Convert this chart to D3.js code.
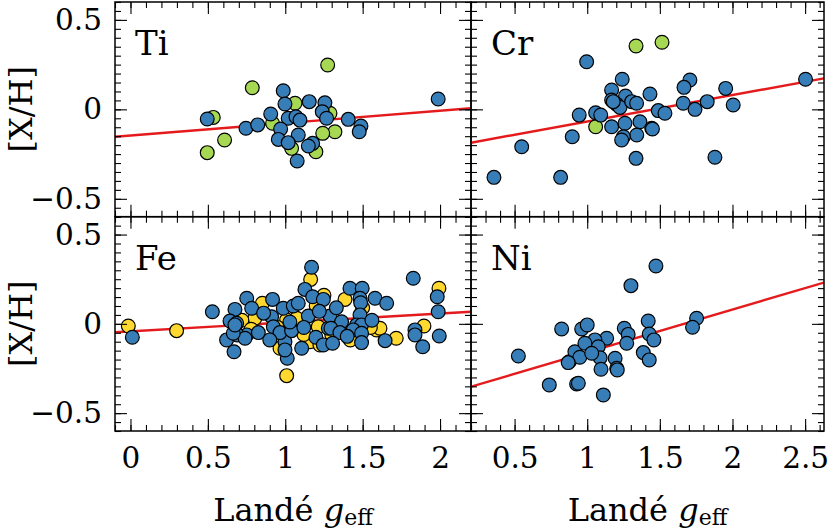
<!DOCTYPE html>
<html>
<head>
<meta charset="utf-8">
<script src="https://cdn.jsdelivr.net/npm/d3@7"></script>
<style>
  body { margin: 0; background: #fff; }
  svg { font-family: "DejaVu Serif", serif; }
</style>
</head>
<body>
<svg id="chart"></svg>
<script>
// values: [Lande g_eff, [X/H]]
const tiBlue = [[0.496,-0.054],[0.746,-0.106],[0.822,-0.087],[0.906,-0.026],[0.987,0.104],[0.998,0.030],
  [1.155,0.043],[1.256,0.037],[1.239,-0.013],[1.267,-0.050],[1.019,-0.050],[1.069,-0.041],[1.095,-0.060],
  [1.407,-0.056],[1.489,-0.093],[1.478,-0.125],[0.970,-0.110],[1.084,-0.143],[0.955,-0.168],[1.019,-0.186],
  [1.177,-0.190],[1.149,-0.205],[1.077,-0.289],[1.988,0.058]];
const tiGreen = [[0.535,-0.045],[0.787,0.121],[0.608,-0.171],[0.496,-0.242],[1.274,0.248],[1.063,0.034],
  [1.289,-0.022],[1.321,-0.125],[1.242,-0.134],[0.918,-0.078],[1.041,-0.218],[1.198,-0.237]];

const crBlue = [[0.358,-0.380],[0.549,-0.209],[0.817,-0.380],[0.897,-0.153],[0.996,0.266],[0.945,-0.032],
  [1.058,-0.019],[1.093,-0.032],[1.241,0.168],[1.168,0.108],[1.168,0.052],[1.264,0.075],[1.203,0.028],
  [1.226,0.011],[1.306,0.043],[1.432,0.086],[1.489,-0.007],[1.535,-0.022],[1.168,-0.097],[1.260,-0.078],
  [1.363,-0.069],[1.444,-0.106],[1.341,-0.143],[1.249,-0.153],[1.237,-0.171],[1.336,-0.274],[1.707,0.164],
  [1.666,0.123],[1.953,0.117],[1.661,0.034],[1.742,0.000],[1.826,0.043],[2.005,0.024],[1.879,-0.268],
  [2.503,0.168],[1.179,0.043],[1.340,0.034],[1.449,-0.110]];
const crGreen = [[1.058,-0.097],[1.336,0.354],[1.515,0.375]];

const feBlue = [[0.012,-0.075],[0.529,0.068],[0.751,0.143],[0.675,0.081],[0.783,0.087],[0.918,0.137],
  [0.987,0.087],[0.643,0.016],[0.686,0.003],[0.621,-0.090],[0.669,-0.156],[0.751,-0.062],[0.826,-0.049],
  [0.912,0.040],[0.923,-0.016],[0.998,-0.100],[1.013,-0.193],[1.170,0.317],[1.052,0.100],[1.084,0.115],
  [1.127,0.193],[1.177,0.152],[1.246,0.137],[1.149,0.044],[0.690,-0.062],[0.966,-0.049],[1.041,-0.038],
  [0.998,-0.146],[1.106,-0.137],[1.198,-0.075],[1.246,-0.118],[1.278,-0.025],[1.827,0.255],[1.418,0.199],
  [1.497,0.199],[1.483,0.143],[1.580,0.143],[1.655,0.115],[1.487,0.118],[1.289,0.044],[1.483,0.050],
  [1.461,-0.006],[1.493,-0.006],[1.364,0.012],[1.295,-0.025],[1.439,-0.034],[1.493,-0.053],[1.353,-0.049],
  [1.306,-0.109],[1.493,-0.105],[1.645,-0.094],[1.838,-0.034],[1.838,-0.062],[1.888,-0.128],[1.995,-0.068],
  [1.982,0.152],[1.988,0.068],[0.740,-0.081],[0.664,-0.053],[0.675,-0.006],[0.860,0.060],[1.030,0.010],
  [1.120,-0.020],[1.220,0.070],[0.900,-0.090],[1.330,0.090],[1.400,-0.070],[1.560,0.020]];
const feYellow = [[-0.014,-0.012],[0.298,-0.038],[0.852,0.115],[0.804,0.031],[1.009,-0.290],[1.164,0.249],
  [1.213,-0.016],[1.160,-0.100],[0.966,-0.137],[1.386,0.137],[1.590,-0.034],[1.612,-0.025],[1.717,-0.081],
  [1.224,-0.118],[1.896,-0.012],[1.993,0.199],[1.009,0.022],[1.074,0.031],[0.72,0.02],[0.95,-0.02],
  [1.12,-0.06],[1.30,-0.06],[1.42,-0.09],[1.55,-0.02],[1.20,0.10],[0.78,-0.03],[1.25,0.16],[1.50,0.09]];

const niBlue = [[0.526,-0.180],[0.824,-0.029],[0.739,-0.342],[0.927,-0.337],[0.876,-0.212],[0.915,-0.156],
  [1.473,0.324],[1.301,0.214],[0.962,-0.029],[1.000,-0.006],[1.255,-0.025],[1.282,-0.059],[1.420,0.016],
  [1.427,-0.057],[1.459,-0.090],[1.753,0.031],[1.725,-0.019],[1.134,-0.081],[1.053,-0.090],[1.076,-0.128],
  [0.984,-0.109],[0.949,-0.187],[0.869,-0.217],[1.089,-0.190],[1.031,-0.165],[1.192,-0.193],[1.203,-0.249],
  [1.207,-0.258],[1.095,-0.254],[1.272,-0.109],[1.386,-0.161],[1.427,-0.202],[0.939,-0.333],[1.111,-0.398]];

// fitted lines: [intercept, slope]
const tiFit = [-0.146, 0.069];
const crFit = [-0.216, 0.148];
const feFit = [-0.042, 0.050];
const niFit = [-0.400, 0.240];

const xTicksLeft = [0, 0.5, 1, 1.5, 2];
const xTicksRight = [0.5, 1, 1.5, 2, 2.5];
const yTicks = [-0.5, 0, 0.5];

const blue = '#377eb8', green = '#a6d854', yellow = '#ffd92f', red = '#e41a1c';

const W = 830, H = 530;
const svg = d3.select('#chart').attr('width', W).attr('height', H);

const xLeft = d3.scaleLinear().domain([-0.1, 2.2]).range([115, 471]);
const xRight = d3.scaleLinear().domain([0.2, 2.63]).range([471, 824]);
const yTop = d3.scaleLinear().domain([-0.6, 0.6]).range([216.7, 2]);
const yBot = d3.scaleLinear().domain([-0.6, 0.6]).range([431, 216.7]);

const panels = [
  { name: 'Ti', x: xLeft, y: yTop, back: tiGreen, backColor: green, front: tiBlue, fit: tiFit, left: true, bottom: false, xt: xTicksLeft },
  { name: 'Cr', x: xRight, y: yTop, back: crGreen, backColor: green, front: crBlue, fit: crFit, left: false, bottom: false, xt: xTicksRight },
  { name: 'Fe', x: xLeft, y: yBot, back: feYellow, backColor: yellow, front: feBlue, fit: feFit, left: true, bottom: true, xt: xTicksLeft },
  { name: 'Ni', x: xRight, y: yBot, back: [], backColor: yellow, front: niBlue, fit: niFit, left: false, bottom: true, xt: xTicksRight }
];

const fmt = d => (d < 0 ? '\u2212' + Math.abs(d) : String(d));

function minor(scale, step) {
  const [a, b] = scale.domain();
  return d3.range(Math.ceil(a / step - 1e-9), Math.floor(b / step + 1e-9) + 1).map(i => +(i * step).toFixed(3));
}

panels.forEach((p, i) => {
  const [x0, x1] = p.x.range();
  const [y1, y0] = p.y.range();
  const g = svg.append('g');
  const clipId = 'clip' + i;
  svg.append('clipPath').attr('id', clipId)
    .append('rect').attr('x', x0).attr('y', y0).attr('width', x1 - x0).attr('height', y1 - y0);

  const plot = g.append('g').attr('clip-path', `url(#${clipId})`);

  // fit line
  const dom = p.x.domain();
  plot.append('line')
    .attr('x1', p.x(dom[0])).attr('y1', p.y(p.fit[0] + p.fit[1] * dom[0]))
    .attr('x2', p.x(dom[1])).attr('y2', p.y(p.fit[0] + p.fit[1] * dom[1]))
    .attr('stroke', red).attr('stroke-width', 2.4);

  const dots = (data, color) => plot.append('g').selectAll('circle')
    .data(data).join('circle')
    .attr('cx', d => p.x(d[0])).attr('cy', d => p.y(d[1]))
    .attr('r', 6.9).attr('fill', color)
    .attr('stroke', '#000').attr('stroke-width', 1.2);
  dots(p.back, p.backColor);
  dots(p.front, blue);

  // ticks, inward on all sides
  const xMinor = minor(p.x, 0.1);
  const yMinor = minor(p.y, 0.05);
  const tickAxes = [
    [d3.axisBottom(p.x), `translate(0,${y1})`, xMinor],
    [d3.axisTop(p.x), `translate(0,${y0})`, xMinor],
    [d3.axisLeft(p.y), `translate(${x0},0)`, yMinor],
    [d3.axisRight(p.y), `translate(${x1},0)`, yMinor]
  ];
  tickAxes.forEach(([ax, tr, mn]) => {
    g.append('g').attr('transform', tr)
      .call(ax.tickValues(mn).tickSize(-6).tickFormat(''))
      .call(s => s.select('.domain').remove());
  });
  const axMajor = [
    [d3.axisBottom(p.x), `translate(0,${y1})`, p.xt, p.bottom],
    [d3.axisTop(p.x), `translate(0,${y0})`, p.xt, false],
    [d3.axisLeft(p.y), `translate(${x0},0)`, yTicks, p.left],
    [d3.axisRight(p.y), `translate(${x1},0)`, yTicks, false]
  ];
  axMajor.forEach(([ax, tr, vals, labels], k) => {
    const a = g.append('g').attr('transform', tr)
      .call(ax.tickValues(vals).tickSize(-12).tickPadding(k === 0 ? 16 : 13)
        .tickFormat(labels ? fmt : ''))
      .call(s => s.select('.domain').remove());
    a.selectAll('text').attr('font-family', '"DejaVu Serif", serif')
      .attr('font-size', 29.5).attr('fill', '#000');
  });
  g.selectAll('.tick line').attr('stroke', '#000').attr('stroke-width', 1.1);

  g.append('rect').attr('x', x0).attr('y', y0).attr('width', x1 - x0).attr('height', y1 - y0)
    .attr('fill', 'none').attr('stroke', '#000').attr('stroke-width', 1.5);

  g.append('text').attr('x', x0 + 20).attr('y', y0 + 53)
    .attr('font-size', 34).text(p.name);

  if (p.left) {
    g.append('text')
      .attr('transform', `translate(32,${(y0 + y1) / 2}) rotate(-90)`)
      .attr('text-anchor', 'middle').attr('font-size', 32).text('[X/H]');
  }
  if (p.bottom) {
    const t = g.append('text').attr('x', (x0 + x1) / 2).attr('y', 521)
      .attr('text-anchor', 'middle').attr('font-size', 32);
    t.append('tspan').text('Landé ');
    t.append('tspan').attr('font-style', 'italic').text('g');
    t.append('tspan').attr('font-size', 22).attr('dy', 4).text('eff');
  }
});
</script>
</body>
</html>
